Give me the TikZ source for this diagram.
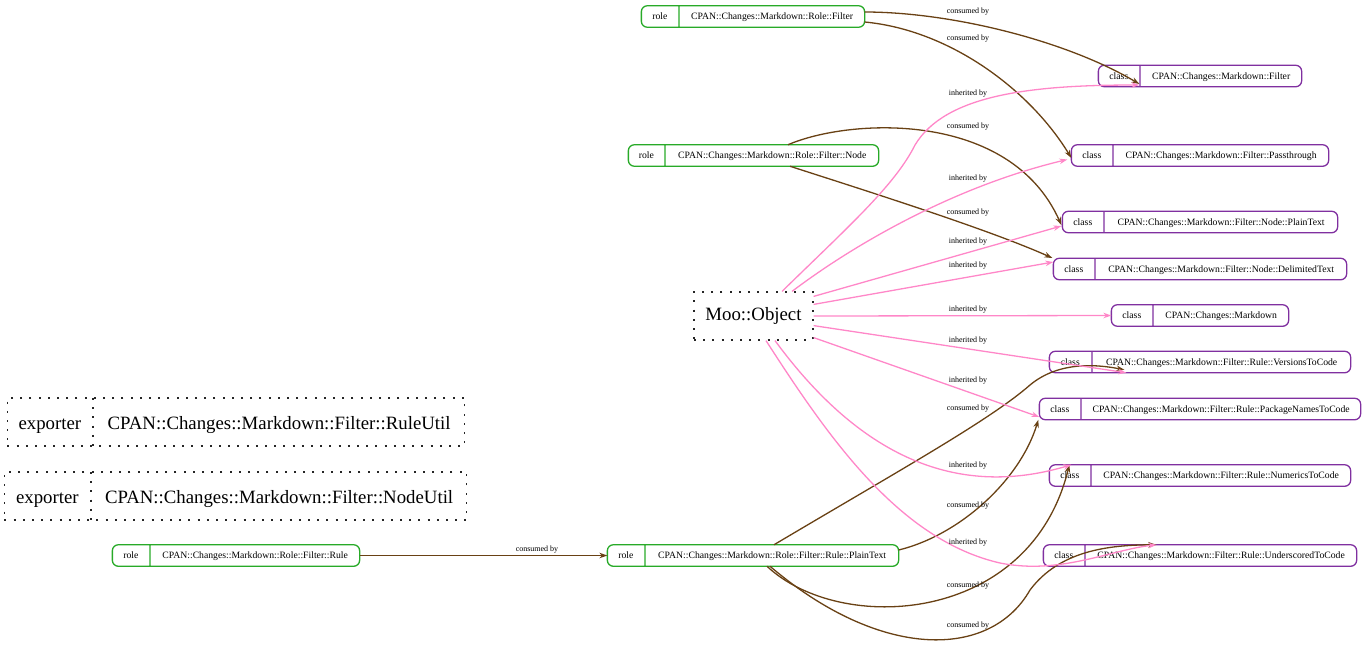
\documentclass[tikz,border=0pt]{standalone}
\usepackage{fontspec}
\setmainfont{Liberation Serif}
\usetikzlibrary{arrows.meta,shapes.multipart}
\definecolor{rolegreen}{RGB}{40,170,40}
\definecolor{classpurple}{RGB}{128,48,160}
\definecolor{consbrown}{RGB}{105,65,20}
\definecolor{inhpink}{RGB}{255,135,200}
\newcommand\smp[2]{\makebox[#1pt]{\rule[-7.5pt]{0pt}{21.5pt}#2}}
\newcommand\bgp[2]{\makebox[#1pt]{\rule[-17pt]{0pt}{48pt}#2}}
\tikzset{
  splitbox/.style={rectangle split, rectangle split horizontal, rectangle split parts=2,
    inner sep=0pt, outer sep=0pt},
  rolebox/.style={splitbox, draw=rolegreen, line width=1.3pt, rounded corners=6pt,
    font=\fontsize{9.7}{10}\selectfont},
  classbox/.style={splitbox, draw=classpurple, line width=1.3pt, rounded corners=6pt,
    font=\fontsize{9.7}{10}\selectfont},
  dotbox/.style={splitbox, draw=black!85, line width=1.2pt, dash pattern=on 2pt off 7.2pt,
    font=\fontsize{18.8}{20}\selectfont},
  mooobj/.style={draw=black!85, line width=1.2pt, dash pattern=on 2pt off 7.2pt,
    minimum width=119pt, minimum height=48pt, inner sep=0pt,
    font=\fontsize{18.8}{20}\selectfont},
  elabel/.style={font=\fontsize{8}{9}\selectfont, inner sep=0pt},
  cons/.style={draw=consbrown, line width=1.3pt, -{Stealth[length=8pt,width=5.5pt]}},
  inh/.style={draw=inhpink, line width=1.3pt, -{Stealth[length=8pt,width=5.5pt]}},
}
\begin{document}
\begin{tikzpicture}[x=1pt,y=-1pt]
\useasboundingbox (0,0) rectangle (1365,649);

% role nodes
\node[rolebox] (RFilter) at (753,16.5) {\smp{37}{role}\nodepart{two}\smp{185}{CPAN::Changes::Markdown::Role::Filter}};
\node[rolebox] (RNode) at (753.5,155.5) {\smp{36}{role}\nodepart{two}\smp{213}{CPAN::Changes::Markdown::Role::Filter::Node}};
\node[rolebox] (RRule) at (236,555.5) {\smp{37}{role}\nodepart{two}\smp{209}{CPAN::Changes::Markdown::Role::Filter::Rule}};
\node[rolebox] (RPlain) at (753,555.5) {\smp{37}{role}\nodepart{two}\smp{253}{CPAN::Changes::Markdown::Role::Filter::Rule::PlainText}};

% class nodes
\node[classbox] (CFilter) at (1200,76) {\smp{41}{class}\nodepart{two}\smp{161}{CPAN::Changes::Markdown::Filter}};
\node[classbox] (CPass) at (1200,155.5) {\smp{41}{class}\nodepart{two}\smp{215}{CPAN::Changes::Markdown::Filter::Passthrough}};
\node[classbox] (CPlain) at (1200,222) {\smp{41}{class}\nodepart{two}\smp{233}{CPAN::Changes::Markdown::Filter::Node::PlainText}};
\node[classbox] (CDelim) at (1200,269) {\smp{41}{class}\nodepart{two}\smp{251}{CPAN::Changes::Markdown::Filter::Node::DelimitedText}};
\node[classbox] (CMark) at (1200,315.5) {\smp{41}{class}\nodepart{two}\smp{135}{CPAN::Changes::Markdown}};
\node[classbox] (CVers) at (1200,362) {\smp{42}{class}\nodepart{two}\smp{258}{CPAN::Changes::Markdown::Filter::Rule::VersionsToCode}};
\node[classbox] (CPack) at (1200,409) {\smp{41}{class}\nodepart{two}\smp{279}{CPAN::Changes::Markdown::Filter::Rule::PackageNamesToCode}};
\node[classbox] (CNum) at (1200,475.5) {\smp{41}{class}\nodepart{two}\smp{259}{CPAN::Changes::Markdown::Filter::Rule::NumericsToCode}};
\node[classbox] (CUnd) at (1200,555.5) {\smp{41}{class}\nodepart{two}\smp{271}{CPAN::Changes::Markdown::Filter::Rule::UnderscoredToCode}};

% Moo::Object and exporters
\node[mooobj] (Moo) at (753.5,316) {Moo::Object};
\node[dotbox] (ERule) at (236,422) {\bgp{85}{exporter}\nodepart{two}\bgp{371}{CPAN::Changes::Markdown::Filter::RuleUtil}};
\node[dotbox] (ENode) at (235.5,496) {\bgp{86}{exporter}\nodepart{two}\bgp{375}{CPAN::Changes::Markdown::Filter::NodeUtil}};

% consumed by edges
\draw[cons] ([yshift=4.5pt]RFilter.east) .. controls (950,12) and (1065,40) .. ([shift={(41,8)}]CFilter.west);
\draw[cons] ([yshift=-5.5pt]RFilter.east) .. controls (950,30) and (1030,90) .. ([shift={(0,2.5)}]CPass.west);
\draw[cons] ([xshift=34.5pt]RNode.north) .. controls (850,118) and (1010,110) .. ([shift={(-1,3)}]CPlain.west);
\draw[cons] ([xshift=36.5pt]RNode.south) .. controls (870,192) and (990,230) .. ([shift={(-1,-11)}]CDelim.west);
\draw[cons] (RRule.east) -- (RPlain.west);
\draw[cons] ([xshift=21pt]RPlain.north) .. controls (900,470) and (990,420) .. (1030,385) .. controls (1060,360) and (1100,365) .. ([shift={(75,-3)}]CVers.south west);
\draw[cons] ([yshift=5.5pt]RPlain.east) .. controls (960,535) and (1020,480) .. ([xshift=-1pt]CPack.south west);
\draw[cons] ([xshift=14pt]RPlain.south) .. controls (840,635) and (1030,625) .. ([xshift=20pt]CNum.north west);
\draw[cons] ([xshift=17pt]RPlain.south) .. controls (880,660) and (990,660) .. (1030,590) .. controls (1060,550) and (1110,545) .. ([xshift=113pt]CUnd.north west);

% inherited by edges
\draw[inh] ([xshift=28.5pt]Moo.north) .. controls (850,225) and (895,185) .. (915,145) .. controls (945,95) and (1030,85) .. ([shift={(41,9)}]CFilter.west);
\draw[inh] ([xshift=38.5pt]Moo.north) .. controls (860,240) and (960,185) .. ([shift={(-4,4)}]CPass.west);
\draw[inh] ([shift={(0,5)}]Moo.north east) -- ([shift={(-1,4)}]CPlain.west);
\draw[inh] ([shift={(0,13)}]Moo.north east) -- ([shift={(0,-7)}]CDelim.west);
\draw[inh] (Moo.east) -- (CMark.west);
\draw[inh] ([shift={(0,-15)}]Moo.south east) -- ([xshift=77pt]CVers.south west);
\draw[inh] ([shift={(0,-3)}]Moo.south east) -- ([shift={(0,8)}]CPack.west);
\draw[inh] ([xshift=21.5pt]Moo.south) .. controls (870,470) and (970,495) .. ([xshift=22pt]CNum.north west);
\draw[inh] ([xshift=12.5pt]Moo.south) .. controls (830,440) and (900,540) .. (1000,563) .. controls (1060,575) and (1110,550) .. ([xshift=113pt]CUnd.north west);

% edge labels
\node[elabel] (lc1) at (968,12) {consumed by};
\node[elabel] (lc2) at (968,39) {consumed by};
\node[elabel] (lc3) at (968,127) {consumed by};
\node[elabel] (lc4) at (968,213) {consumed by};
\node[elabel] (lc5) at (537,550) {consumed by};
\node[elabel] (lc6) at (968,409) {consumed by};
\node[elabel] (lc7) at (968,506) {consumed by};
\node[elabel] (lc8) at (968,586) {consumed by};
\node[elabel] (lc9) at (968,626) {consumed by};
\node[elabel] (li1) at (968,94) {inherited by};
\node[elabel] (li2) at (968,179) {inherited by};
\node[elabel] (li3) at (968,242) {inherited by};
\node[elabel] (li4) at (968,266) {inherited by};
\node[elabel] (li5) at (968,310) {inherited by};
\node[elabel] (li6) at (968,341) {inherited by};
\node[elabel] (li7) at (968,381) {inherited by};
\node[elabel] (li8) at (968,466) {inherited by};
\node[elabel] (li9) at (968,543) {inherited by};
\end{tikzpicture}
\end{document}
